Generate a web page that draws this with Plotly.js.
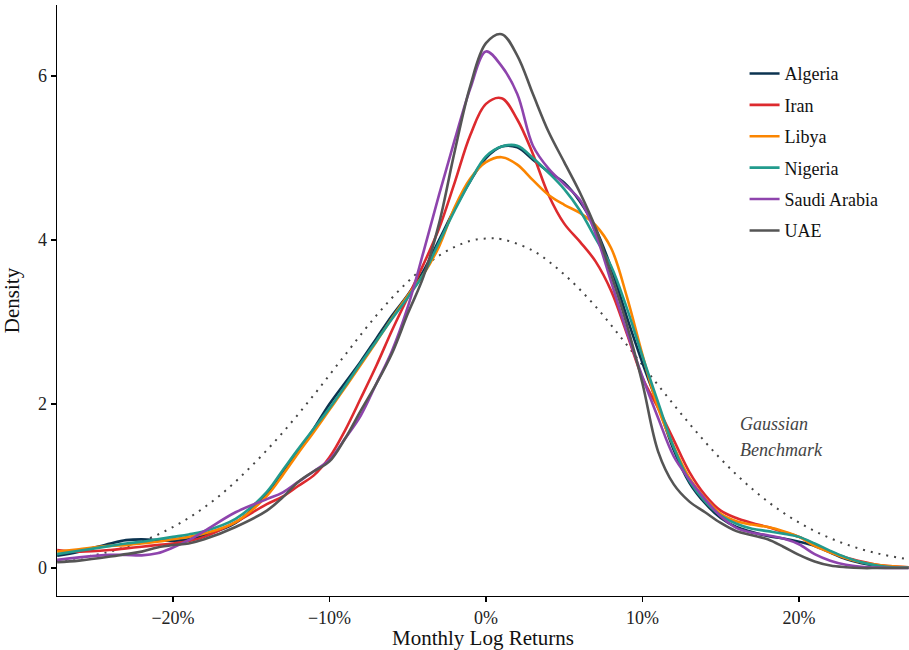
<!DOCTYPE html>
<html>
<head>
<meta charset="utf-8">
<script src="https://cdn.plot.ly/plotly-3.0.1.min.js"></script>
<style>html,body{margin:0;padding:0;background:#fff;}#chart{width:909px;height:650px;}</style>
</head>
<body>
<div id="chart"></div>
<script>
// x grid in monthly log returns (decimal)
const xGrid = [-0.274,-0.26,-0.24,-0.23,-0.22,-0.21,-0.20,-0.19,-0.18,-0.16,-0.14,-0.13,-0.12,-0.11,-0.10,-0.09,-0.08,-0.07,-0.06,-0.05,-0.04,-0.03,-0.02,-0.01,0.00,0.01,0.02,0.03,0.04,0.05,0.06,0.07,0.08,0.09,0.10,0.11,0.12,0.13,0.14,0.15,0.16,0.17,0.18,0.19,0.20,0.21,0.22,0.23,0.24,0.25,0.26,0.27];

const algeria = [0.15,0.20,0.30,0.34,0.35,0.34,0.33,0.35,0.40,0.55,0.90,1.15,1.42,1.70,2.00,2.26,2.52,2.80,3.08,3.33,3.62,4.00,4.38,4.72,5.00,5.14,5.13,4.98,4.83,4.70,4.47,4.14,3.66,3.06,2.50,1.98,1.44,1.04,0.79,0.61,0.50,0.44,0.39,0.36,0.32,0.27,0.19,0.11,0.06,0.03,0.01,0.005];
const iran    = [0.22,0.20,0.22,0.24,0.26,0.28,0.30,0.33,0.38,0.56,0.78,0.87,1.00,1.13,1.35,1.68,2.07,2.47,2.90,3.30,3.70,4.14,4.70,5.28,5.66,5.73,5.47,5.05,4.55,4.20,3.98,3.74,3.38,2.86,2.32,1.95,1.56,1.17,0.89,0.70,0.61,0.55,0.50,0.44,0.38,0.29,0.20,0.13,0.08,0.04,0.02,0.01];
const libya   = [0.20,0.23,0.27,0.28,0.30,0.32,0.35,0.38,0.42,0.56,0.88,1.13,1.40,1.66,1.93,2.20,2.48,2.76,3.05,3.32,3.58,3.92,4.40,4.75,4.95,5.01,4.92,4.73,4.55,4.43,4.33,4.18,3.90,3.31,2.60,1.95,1.48,1.10,0.85,0.66,0.57,0.53,0.50,0.45,0.38,0.27,0.19,0.12,0.07,0.04,0.02,0.01];
const nigeria = [0.17,0.21,0.27,0.30,0.32,0.35,0.38,0.41,0.45,0.60,0.93,1.19,1.45,1.70,1.95,2.22,2.50,2.77,3.04,3.30,3.58,3.97,4.36,4.72,5.02,5.14,5.15,5.00,4.82,4.62,4.36,4.02,3.68,3.17,2.58,2.02,1.47,1.06,0.81,0.64,0.54,0.48,0.45,0.42,0.38,0.30,0.21,0.13,0.07,0.03,0.01,0.005];
const saudi   = [0.10,0.13,0.16,0.16,0.155,0.18,0.25,0.34,0.45,0.68,0.84,0.92,1.05,1.18,1.32,1.58,1.86,2.25,2.65,3.18,3.85,4.55,5.22,5.85,6.30,6.12,5.78,5.15,4.87,4.68,4.49,4.08,3.49,2.88,2.33,1.83,1.36,1.08,0.84,0.63,0.49,0.43,0.40,0.36,0.29,0.17,0.09,0.04,0.015,0.005,0.0,0.0];
const uae     = [0.07,0.09,0.14,0.17,0.20,0.25,0.28,0.30,0.35,0.50,0.70,0.86,1.05,1.18,1.30,1.58,1.92,2.25,2.62,3.10,3.55,4.20,5.08,5.88,6.40,6.51,6.25,5.78,5.32,4.95,4.58,4.15,3.58,2.97,2.25,1.42,1.02,0.81,0.68,0.55,0.45,0.40,0.35,0.26,0.16,0.08,0.03,0.01,0.0,0.0,0.0,0.0];

// Gaussian benchmark
const gaussX = [-0.274,-0.25,-0.23,-0.21,-0.19,-0.17,-0.15,-0.13,-0.11,-0.09,-0.07,-0.05,-0.03,-0.01,0.0025,0.01,0.03,0.05,0.07,0.09,0.11,0.13,0.15,0.17,0.19,0.21,0.23,0.25,0.27];
const gaussY = [0.085,0.158,0.258,0.405,0.611,0.886,1.24,1.65,2.11,2.60,3.08,3.49,3.81,3.99,4.02,4.01,3.87,3.58,3.19,2.72,2.23,1.76,1.33,0.967,0.674,0.451,0.290,0.179,0.106];

const countries = ["Algeria","Iran","Libya","Nigeria","Saudi Arabia","UAE"];
const series = [algeria, iran, libya, nigeria, saudi, uae];
const colors = ["#0b3350","#dd2a2e","#fb8500","#229b8d","#8e44ad","#555555"];

const traces = countries.map((c, i) => ({
  type: "scatter", mode: "lines", name: c, x: xGrid, y: series[i],
  line: {color: colors[i], width: 2.6, shape: "spline", smoothing: 1},
  legendgroup: "g" + i, hoverinfo: "skip"
}));
traces.unshift({
  type: "scatter", mode: "lines", name: "Gaussian", x: gaussX, y: gaussY,
  line: {color: "#444444", width: 2, dash: "2px,6px", shape: "spline", smoothing: 1},
  showlegend: false, hoverinfo: "skip"
});

const font = "Liberation Serif, Times New Roman, serif";
const layout = {
  width: 909, height: 650,
  margin: {l: 57, r: 0, t: 5, b: 54},
  paper_bgcolor: "#fff", plot_bgcolor: "#fff",
  font: {family: font, size: 18, color: "#222"},
  xaxis: {
    range: [-0.2741, 0.2703], tickvals: [-0.2,-0.1,0,0.1,0.2], tickformat: ".0%",
    showgrid: false, zeroline: false, showline: true, linecolor: "#000", linewidth: 1.3,
    ticks: "outside", ticklen: 5, tickcolor: "#000", tickwidth: 1.3,
    tickfont: {family: font, size: 18, color: "#222"},
    title: {text: "Monthly Log Returns", font: {family: font, size: 21, color: "#111"}, standoff: 3}
  },
  yaxis: {
    range: [-0.341, 6.866], tickvals: [0,2,4,6],
    showgrid: false, zeroline: false, showline: true, linecolor: "#000", linewidth: 1.3,
    ticks: "outside", ticklen: 5, tickcolor: "#000", tickwidth: 1.3,
    tickfont: {family: font, size: 18, color: "#222"},
    title: {text: "Density", font: {family: font, size: 21, color: "#111"}, standoff: 12}
  },
  showlegend: true,
  legend: {
    x: 0.807, y: 0.915, xanchor: "left", yanchor: "top",
    font: {family: font, size: 18, color: "#111"},
    bgcolor: "rgba(0,0,0,0)", traceorder: "grouped", tracegroupgap: 5
  },
  annotations: [
    {x: 0.161, y: 1.756, xref: "x", yref: "y", text: "<i>Gaussian</i>", showarrow: false, xanchor: "left",
     font: {family: font, size: 18, color: "#444"}},
    {x: 0.161, y: 1.439, xref: "x", yref: "y", text: "<i>Benchmark</i>", showarrow: false, xanchor: "left",
     font: {family: font, size: 18, color: "#444"}}
  ]
};

Plotly.newPlot("chart", traces, layout, {displayModeBar: false, staticPlot: true});
</script>
</body>
</html>
